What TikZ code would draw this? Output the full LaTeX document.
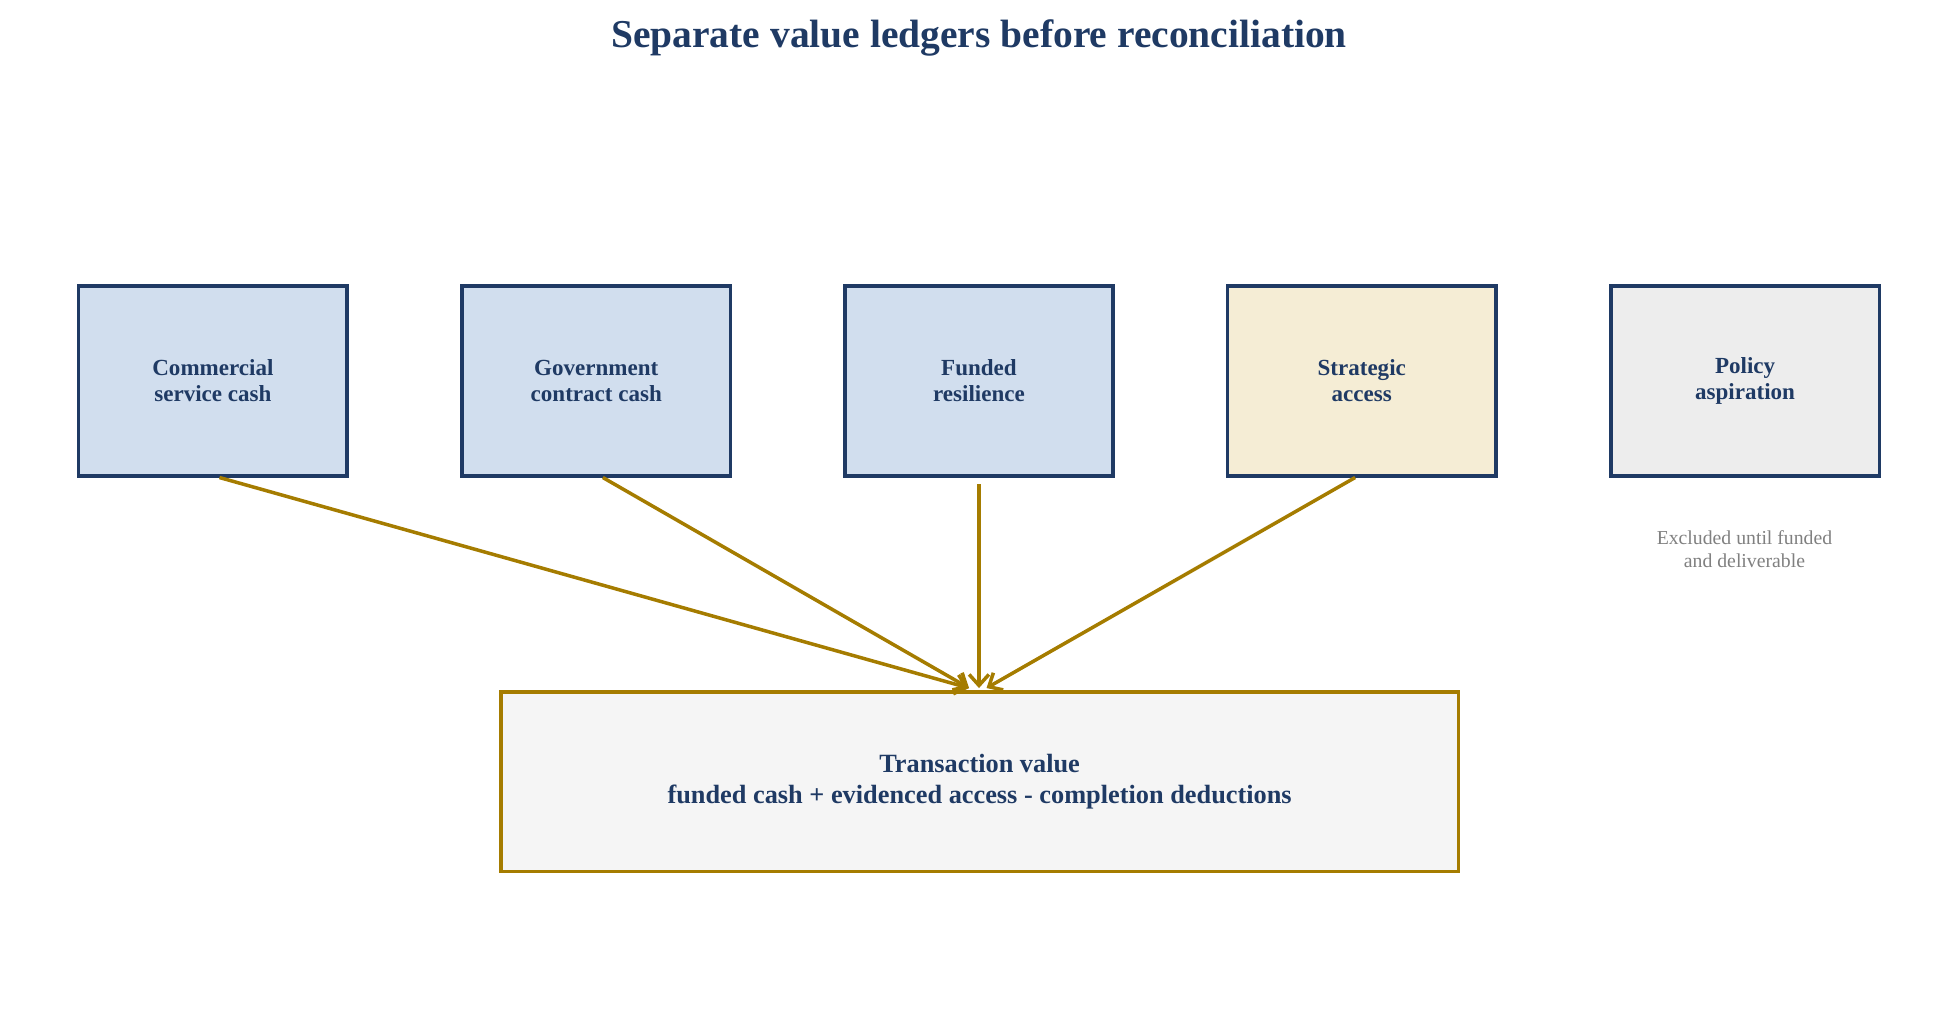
\documentclass[tikz,border=0pt]{standalone}
\usepackage{fontspec}
\setmainfont{Liberation Serif}
\begin{document}
\begin{tikzpicture}[x=0.02cm,y=-0.02cm,
  box/.style={draw=navy,line width=1.6pt,minimum width=215*0.02cm,minimum height=152*0.02cm,inner sep=0pt,align=center,text=navy,font=\fontsize{10.5}{12}\selectfont\bfseries},
  arr/.style={draw=gold,line width=1.6pt,-{Straight Barb[length=5pt,width=9pt]}}]
\usetikzlibrary{arrows.meta}
\definecolor{navy}{HTML}{1F3A64}
\definecolor{gold}{HTML}{A57C00}
\useasboundingbox (0,0) rectangle (1568,828);
\node[text=navy,font=\fontsize{18}{20}\selectfont\bfseries] (title) at (784,30) {Separate value ledgers before reconciliation};
\node[box,fill={rgb,255:red,209;green,222;blue,238}] (a) at (170.5,305) {Commercial\\service cash};
\node[box,fill={rgb,255:red,209;green,222;blue,238}] (b) at (477.5,305) {Government\\contract cash};
\node[box,fill={rgb,255:red,209;green,222;blue,238}] (c) at (784,305) {Funded\\resilience};
\node[box,fill={rgb,255:red,245;green,237;blue,213}] (d) at (1090.5,305) {Strategic\\access};
\node[box,fill={rgb,255:red,237;green,237;blue,237}] (e) at (1397.5,305) {Policy\\aspiration};
\node[text=gray,align=center,font=\fontsize{9}{10.5}\selectfont] (note) at (1397,440) {Excluded until funded\\and deliverable};
\node[draw=gold,line width=1.6pt,fill={rgb,255:red,245;green,245;blue,245},minimum width=767*0.02cm,minimum height=144*0.02cm,align=center,text=navy,font=\fontsize{12}{14}\selectfont\bfseries] (t) at (784.5,626) {Transaction value\\funded cash + evidenced access - completion deductions};
\coordinate (t1) at (776,551);
\coordinate (t2) at (784,551);
\coordinate (t3) at (790,551);
\draw[arr] ([xshift=3pt]a.south) -- (t1);
\draw[arr] ([xshift=3pt]b.south) -- (t1);
\draw[arr] ([yshift=-3pt]c.south) -- (t2);
\draw[arr] ([xshift=-3pt]d.south) -- (t3);
\end{tikzpicture}
\end{document}
